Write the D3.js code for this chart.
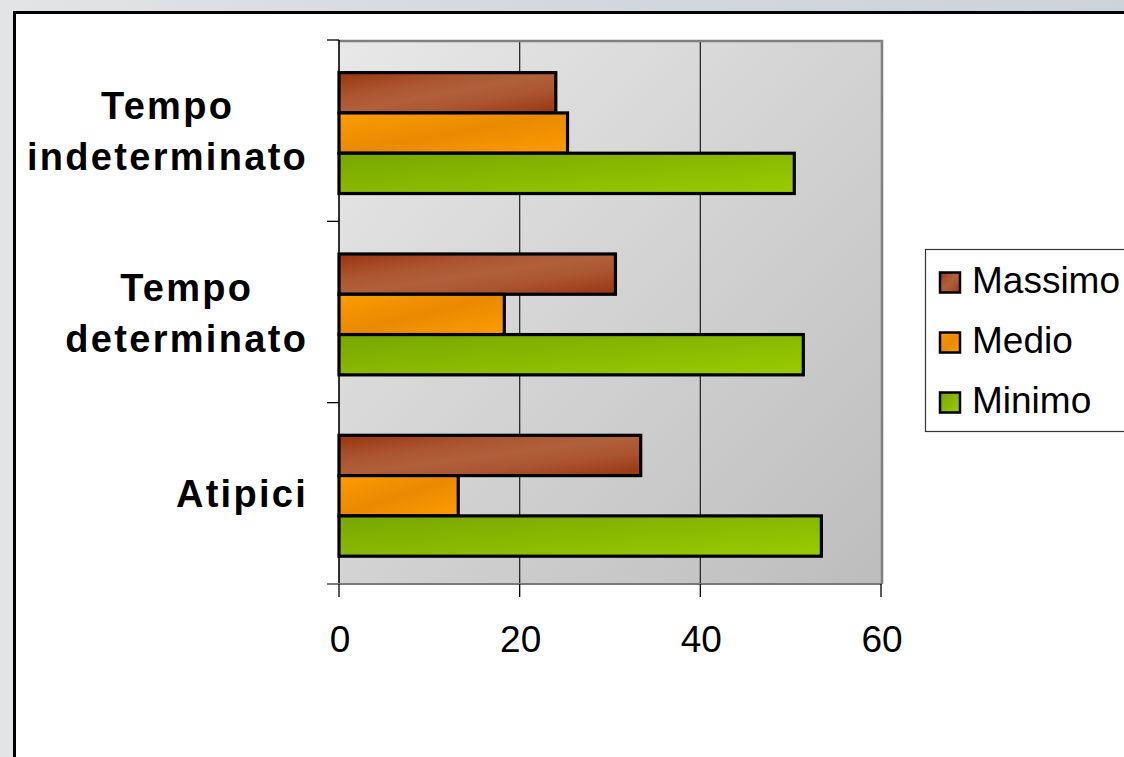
<!DOCTYPE html>
<html>
<head>
<meta charset="utf-8">
<script src="https://cdn.jsdelivr.net/npm/d3@7/dist/d3.min.js"></script>
<style>
  html, body { margin: 0; padding: 0; background: #dde1e4; overflow: hidden; }
  svg { display: block; }
</style>
</head>
<body>
<svg id="chart" width="1124" height="757"></svg>
<script>
// Contract types (top to bottom) and the three series drawn for each one
const categories = [["Tempo", "indeterminato"], ["Tempo", "determinato"], ["Atipici"]];
const seriesNames = ["Massimo", "Medio", "Minimo"];
const massimo = [24.0, 30.6, 33.4];
const medio = [25.3, 18.3, 13.2];
const minimo = [50.4, 51.4, 53.4];
const xTicks = [0, 20, 40, 60];

const seriesValues = [massimo, medio, minimo];
const catKeys = categories.map(c => c.join(" "));

const svg = d3.select("#chart");
const defs = svg.append("defs");

// Backdrop behind the chart frame
const bg = defs.append("linearGradient").attr("id", "backdrop")
  .attr("x1", 0).attr("y1", 0).attr("x2", 1).attr("y2", 0);
bg.append("stop").attr("offset", 0).attr("stop-color", "#e3e4e5");
bg.append("stop").attr("offset", 0.5).attr("stop-color", "#d2d8dc");
bg.append("stop").attr("offset", 1).attr("stop-color", "#cdd4d9");
svg.append("rect").attr("width", 1124).attr("height", 757).attr("fill", "url(#backdrop)");

// Chart frame
svg.append("rect")
  .attr("x", 14.5).attr("y", 12.5).attr("width", 1200).attr("height", 800)
  .attr("fill", "#ffffff").attr("stroke", "#000").attr("stroke-width", 3);

// Plot area
const plot = { left: 339, right: 881, top: 40, bottom: 584 };

const x = d3.scaleLinear().domain([0, 60]).range([plot.left, plot.right]);
const y = d3.scaleBand().domain(catKeys).range([plot.top, plot.bottom]).padding(0);
const ySub = d3.scaleBand().domain(seriesNames).range([0, y.bandwidth()])
  .paddingInner(0).paddingOuter(0.75).align(0.54);

const pg = defs.append("linearGradient").attr("id", "plotFill")
  .attr("x1", 0).attr("y1", 0).attr("x2", 1).attr("y2", 1);
pg.append("stop").attr("offset", 0).attr("stop-color", "#e8e8e8");
pg.append("stop").attr("offset", 1).attr("stop-color", "#bdbdbd");

svg.append("rect")
  .attr("x", plot.left).attr("y", plot.top)
  .attr("width", plot.right - plot.left).attr("height", plot.bottom - plot.top)
  .attr("fill", "url(#plotFill)");

// Vertical gridlines
svg.append("g").selectAll("line")
  .data(xTicks.filter(t => t > 0 && t < 60))
  .join("line")
  .attr("x1", d => x(d)).attr("x2", d => x(d))
  .attr("y1", plot.top).attr("y2", plot.bottom)
  .attr("stroke", "#2a2a2a").attr("stroke-width", 1.3);

// Plot border (top and right)
svg.append("path")
  .attr("d", `M${plot.left},${plot.top + 1}H${plot.right + 1}V${plot.bottom}`)
  .attr("fill", "none").attr("stroke", "#808080").attr("stroke-width", 2.6);

// Bar fills
const fills = {
  Massimo: [["0", "#97340e"], ["0.3", "#ab5530"], ["0.5", "#b0603a"], ["0.7", "#ab5530"], ["1", "#97340e"]],
  Medio: [["0", "#ff9c00"], ["0.5", "#e98a00"], ["1", "#ff9c00"]],
  Minimo: [["0", "#78a600"], ["1", "#9acc00"]]
};
seriesNames.forEach((s, i) => {
  const g = defs.append("linearGradient").attr("id", "fill" + i)
    .attr("x1", 0).attr("y1", 0).attr("x2", 1).attr("y2", 1);
  fills[s].forEach(([o, c]) => g.append("stop").attr("offset", o).attr("stop-color", c));
});

// Bars
const barData = [];
catKeys.forEach((c, ci) => {
  seriesNames.forEach((s, si) => {
    barData.push({ cat: c, series: s, si, value: seriesValues[si][ci] });
  });
});

svg.append("g").selectAll("rect")
  .data(barData)
  .join("rect")
  .attr("x", x(0))
  .attr("y", d => y(d.cat) + ySub(d.series))
  .attr("width", d => x(d.value) - x(0))
  .attr("height", ySub.bandwidth())
  .attr("fill", d => `url(#fill${d.si})`)
  .attr("stroke", "#000").attr("stroke-width", 3.2);

// Category axis
const yAxisG = svg.append("g");
yAxisG.append("line")
  .attr("x1", plot.left).attr("x2", plot.left)
  .attr("y1", plot.top).attr("y2", plot.bottom)
  .attr("stroke", "#000").attr("stroke-width", 1.6);
const boundaries = catKeys.map(c => y(c)).concat([plot.bottom]);
yAxisG.selectAll(".tick").data(boundaries).join("line")
  .attr("x1", plot.left - 12).attr("x2", plot.left)
  .attr("y1", d => d).attr("y2", d => d)
  .attr("stroke", "#000").attr("stroke-width", 1.3);

const ls = 2.3;
const labelG = svg.append("g")
  .attr("font-family", "'Liberation Sans', Arial, sans-serif")
  .attr("font-weight", "bold").attr("font-size", 38)
  .attr("letter-spacing", ls)
  .attr("fill", "#000").attr("text-anchor", "middle");
categories.forEach((lines, ci) => {
  const cy = y(catKeys[ci]) + y.bandwidth() / 2;
  const lh = 51;
  const firstBase = cy + 14 - (lines.length - 1) * lh / 2;
  // each label block is centred and right-aligned against the axis
  const t = labelG.append("text");
  lines.forEach((ln, li) => {
    t.append("tspan").attr("y", firstBase + li * lh).text(ln);
  });
  const w = d3.max(t.selectAll("tspan").nodes(), n => n.getComputedTextLength());
  t.selectAll("tspan").attr("x", 307 - w / 2 + ls / 2);
});

// Value axis
const xAxisG = svg.append("g");
xAxisG.append("line")
  .attr("x1", plot.left - 12).attr("x2", plot.right + 1)
  .attr("y1", plot.bottom).attr("y2", plot.bottom)
  .attr("stroke", "#7a7a7a").attr("stroke-width", 2);
xAxisG.selectAll(".tk").data(xTicks).join("line")
  .attr("x1", d => x(d)).attr("x2", d => x(d))
  .attr("y1", plot.bottom).attr("y2", plot.bottom + 13)
  .attr("stroke", "#000").attr("stroke-width", 1.3);
xAxisG.selectAll("text").data(xTicks).join("text")
  .attr("x", d => x(d) + 1).attr("y", 652)
  .attr("text-anchor", "middle")
  .attr("font-family", "'Liberation Sans', Arial, sans-serif")
  .attr("font-size", 37).attr("fill", "#000")
  .text(d => d3.format("d")(d));

// Legend
const legend = svg.append("g");
legend.append("rect")
  .attr("x", 925.5).attr("y", 249.5).attr("width", 300).attr("height", 182)
  .attr("fill", "#fff").attr("stroke", "#333").attr("stroke-width", 1.2);
const legRow = d3.scalePoint().domain(seriesNames).range([282.5, 402.5]);
seriesNames.forEach((s, i) => {
  legend.append("rect")
    .attr("x", 940).attr("y", legRow(s) - 10)
    .attr("width", 20).attr("height", 20)
    .attr("fill", `url(#fill${i})`)
    .attr("stroke", "#000").attr("stroke-width", 2.5);
  legend.append("text")
    .attr("x", 972).attr("y", legRow(s) + 10)
    .attr("font-family", "'Liberation Sans', Arial, sans-serif")
    .attr("font-size", 37).attr("fill", "#000")
    .text(s);
});
</script>
</body>
</html>
